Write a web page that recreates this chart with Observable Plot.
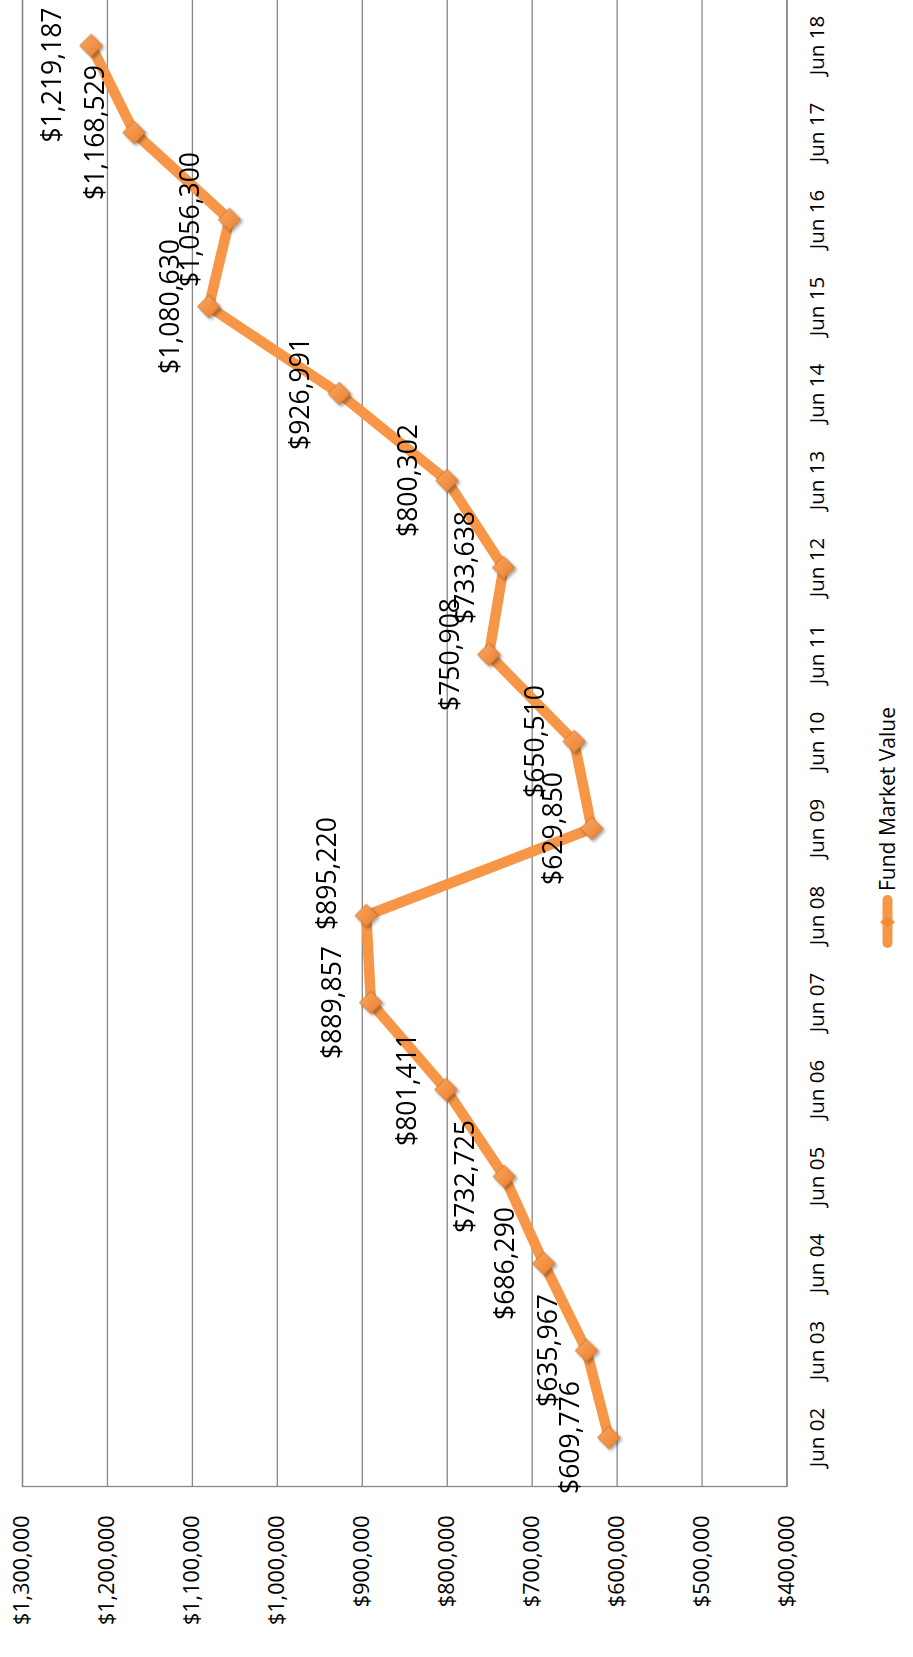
<!DOCTYPE html>
<html>
<head>
<meta charset="utf-8">
<script src="https://cdn.jsdelivr.net/npm/d3@7"></script>
<script src="https://cdn.jsdelivr.net/npm/@observablehq/plot@0.6"></script>
<style>
  html, body { margin: 0; padding: 0; background: #fff; }
  body { width: 913px; height: 1657px; overflow: hidden; position: relative; }
  #frame {
    position: absolute; left: 0; top: 0;
    width: 1657px; height: 913px;
    transform-origin: 0 0;
    transform: translate(0, 1657px) rotate(-90deg);
  }
  #frame > svg { position: absolute; left: 0; top: 0; overflow: visible; }
  g[aria-label="dot"] { filter: url(#mkShadow); }
  #legend {
    position: absolute; left: 709px; top: 887px;
    transform: translateY(-50%);
    display: flex; align-items: center;
    font-family: "Open Sans", sans-serif; font-size: 21px; color: #000;
    line-height: 1; white-space: nowrap;
  }
  #legend svg { display: block; }
  #legend span { margin-left: 4px; }
</style>
</head>
<body>
<div id="frame"></div>
<script>
const months = ["Jun 02","Jun 03","Jun 04","Jun 05","Jun 06","Jun 07","Jun 08","Jun 09","Jun 10","Jun 11","Jun 12","Jun 13","Jun 14","Jun 15","Jun 16","Jun 17","Jun 18"];
const values = [609776, 635967, 686290, 732725, 801411, 889857, 895220, 629850, 650510, 750908, 733638, 800302, 926991, 1080630, 1056300, 1168529, 1219187];
const yTicks = [400000, 500000, 600000, 700000, 800000, 900000, 1000000, 1100000, 1200000, 1300000];
const seriesName = "Fund Market Value";

const data = months.map((m, i) => ({month: m, value: values[i]}));
const fmt = v => "$" + d3.format(",")(v);

const W = 1657, H = 913;
const font = "'Open Sans', sans-serif";
const chart = Plot.plot({
  width: W, height: H,
  marginLeft: 170, marginRight: -2, marginTop: 22, marginBottom: 126.5,
  style: {fontFamily: font, color: "#000", background: "transparent", overflow: "visible"},
  x: {type: "point", domain: months, padding: 0.5, label: null},
  y: {domain: [400000, 1300000], label: null},
  marks: [
    Plot.gridY(yTicks, {stroke: "#868686", strokeOpacity: 1, strokeWidth: 1.3}),
    Plot.frame({stroke: "#868686", strokeWidth: 1.3}),
    Plot.axisX({tickSize: 0, tickPadding: 22.7, fontSize: 20.5, label: null, fill: "#000"}),
    Plot.axisY(yTicks, {tickFormat: fmt, tickSize: 0, tickPadding: 29, fontSize: 21.5, label: null, fill: "#000"}),
    Plot.lineY(data, {x: "month", y: "value", stroke: "#F79646", strokeWidth: 10.5, strokeLinecap: "round", strokeLinejoin: "round"}),
    Plot.dot(data, {x: "month", y: "value", symbol: "diamond2", r: 10.2, fill: "url(#mkGrad)", stroke: "#B8692C", strokeWidth: 0.8}),
    Plot.text(data, {x: "month", y: "value", text: d => fmt(d.value), dy: -38.5, lineAnchor: "middle", fontSize: 26.5, fill: "#000"})
  ]
});

const ns = "http://www.w3.org/2000/svg";
const defs = document.createElementNS(ns, "defs");
defs.innerHTML = `
  <linearGradient id="mkGrad" x1="1" y1="0" x2="0" y2="1">
    <stop offset="0" stop-color="#FBA862"/>
    <stop offset="1" stop-color="#EA7D2C"/>
  </linearGradient>
  <filter id="mkShadow" x="-50%" y="-50%" width="200%" height="200%">
    <feDropShadow dx="-2" dy="2" stdDeviation="1.6" flood-color="#000" flood-opacity="0.35"/>
  </filter>`;
chart.insertBefore(defs, chart.firstChild);

const frame = document.getElementById("frame");
frame.appendChild(chart);

// label placement: keep labels inside the chart area, and push apart
// two labels that sit at nearly the same height and collide
const limit = W - 8;
const xs = chart.scale("x"), ys = chart.scale("y");
const boxes = [];
chart.querySelectorAll('g[aria-label="text"] text').forEach((el, i) => {
  const cx = xs.apply(data[i].month);
  const cy = ys.apply(data[i].value);
  const w = el.getComputedTextLength();
  let shift = 0;
  if (cx + w / 2 > limit) shift = limit - (cx + w / 2);
  const prev = boxes[i - 1];
  if (prev && Math.abs(prev.cy - cy) < 8) {
    const left = cx - w / 2 + shift;
    const minLeft = prev.right + 16;
    if (left < minLeft) shift += minLeft - left;
  }
  if (shift) el.setAttribute("transform", (el.getAttribute("transform") || "") + ` translate(${shift},0)`);
  boxes.push({cy, right: cx + w / 2 + shift});
});

// legend
const legend = document.createElement("div");
legend.id = "legend";
legend.innerHTML = `
  <svg width="53" height="20" viewBox="0 0 53 20">
    <line x1="5" y1="10" x2="48" y2="10" stroke="#F79646" stroke-width="10" stroke-linecap="round"/>
    <path d="M26,3 L33,10 L26,17 L19,10 Z" fill="#F28A33" stroke="#F9A865" stroke-width="1"/>
  </svg>
  <span></span>`;
legend.querySelector("span").textContent = seriesName;
frame.appendChild(legend);
</script>
</body>
</html>
